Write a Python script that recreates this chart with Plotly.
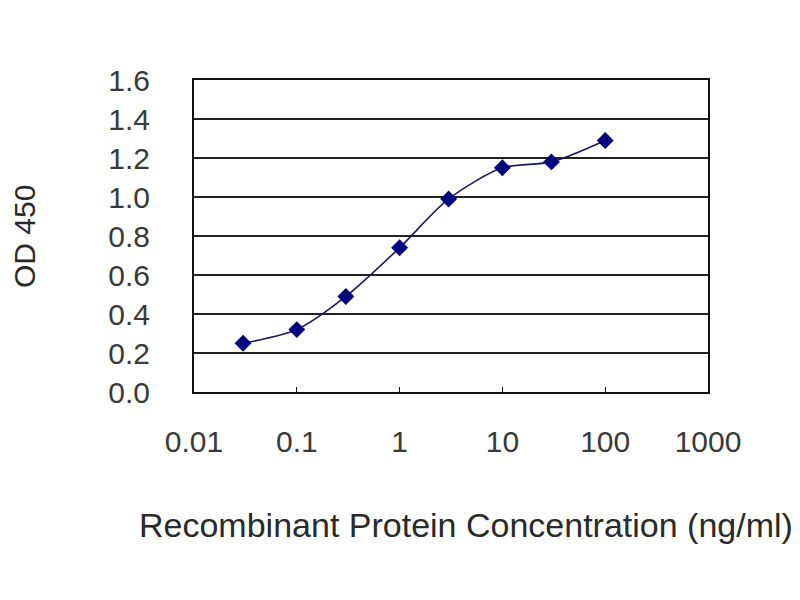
import plotly.graph_objects as go

concentration = [0.03, 0.1, 0.3, 1, 3, 10, 30, 100]
od450 = [0.25, 0.32, 0.49, 0.74, 0.99, 1.15, 1.18, 1.29]
x_ticks = [0.01, 0.1, 1, 10, 100, 1000]
x_tick_labels = ["0.01", "0.1", "1", "10", "100", "1000"]
y_ticks = [0.0, 0.2, 0.4, 0.6, 0.8, 1.0, 1.2, 1.4, 1.6]
y_tick_labels = ["0.0", "0.2", "0.4", "0.6", "0.8", "1.0", "1.2", "1.4", "1.6"]

FAM = "Liberation Sans, Arial, sans-serif"
font = dict(family=FAM, size=30, color="#3a3a3a")

fig = go.Figure()
fig.add_trace(go.Scatter(
    x=concentration, y=od450, mode="lines+markers",
    line=dict(color="#1a1a5e", width=1.6, shape="spline", smoothing=0.8),
    marker=dict(symbol="diamond", size=13, color="#000080"),
    showlegend=False,
))

fig.update_layout(
    width=800, height=600,
    margin=dict(l=186, r=100, t=72, b=216),
    paper_bgcolor="white", plot_bgcolor="white",
    font=font,
    xaxis=dict(
        type="log", range=[-2, 3],
        tickvals=x_ticks, ticktext=x_tick_labels,
        showgrid=False, showline=True, linecolor="#111", linewidth=2,
        mirror=True, ticks="inside", ticklen=5, tickcolor="#111",
        ticklabelstandoff=22, zeroline=False,
    ),
    yaxis=dict(
        range=[0, 1.6],
        tickvals=y_ticks, ticktext=y_tick_labels,
        showgrid=True, gridcolor="#222", gridwidth=2,
        showline=True, linecolor="#111", linewidth=2, mirror=True,
        ticks="", ticklabelstandoff=36, zeroline=False,
    ),
    annotations=[
        dict(text="Recombinant Protein Concentration (ng/ml)", xref="paper", yref="paper",
             x=(466 - 194) / 514, y=(392 - 525) / 312, xanchor="center", yanchor="middle",
             showarrow=False, font=dict(family=FAM, size=34, color="#2a2a2a")),
        dict(text="OD 450", xref="paper", yref="paper",
             x=(24 - 194) / 514, y=(392 - 237) / 312, xanchor="center", yanchor="middle",
             textangle=-90, showarrow=False,
             font=dict(family=FAM, size=30, color="#2a2a2a")),
    ],
)

fig.write_html("out.html")
